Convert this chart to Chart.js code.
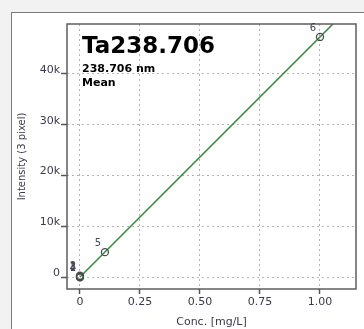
<!DOCTYPE html>
<html>
<head>
<meta charset="utf-8">
<script src="https://cdn.jsdelivr.net/npm/chart.js@4/dist/chart.umd.min.js"></script>
<style>
  html, body { margin: 0; padding: 0; background: #f2f2f2; width: 364px; height: 329px; overflow: hidden; }
  #frame { position: absolute; left: 11px; top: 12px; width: 420px; height: 400px; border: 1.5px solid #7a7a7a; background: #ffffff; }
  #c { position: absolute; left: 0; top: 0; }
</style>
</head>
<body>
<div id="frame"></div>
<canvas id="c" width="364" height="329"></canvas>
<script>
// ---- data ----
const titleText = "Ta238.706";
const subTitle1 = "238.706 nm";
const subTitle2 = "Mean";
const xAxisTitle = "Conc. [mg/L]";
const yAxisTitle = "Intensity (3 pixel)";

const pointLabels = ["1", "2", "3", "4", "5", "6"];
const concValues = [0, 0, 0, 0, 0.104, 1.0];
const intensityValues = [0, 250, 120, -80, 4900, 47300];

const fitX = [0, 1.2];
const fitY = [0, 56760];

const xTickValues = [0, 0.25, 0.5, 0.75, 1.0];
const xTickLabels = ["0", "0.25", "0.50", "0.75", "1.00"];
const yTickValues = [0, 10000, 20000, 30000, 40000];
const yTickLabels = ["0", "10k", "20k", "30k", "40k"];

const FONT = "'DejaVu Sans', sans-serif";

const overlayPlugin = {
  id: 'overlay',
  afterDatasetsDraw(chart) {
    const ctx = chart.ctx;
    const a = chart.chartArea;
    ctx.save();
    // plot border
    ctx.strokeStyle = '#5e5e5e';
    ctx.lineWidth = 1.5;
    ctx.strokeRect(a.left, a.top, a.right - a.left, a.bottom - a.top);
    // point labels
    const meta = chart.getDatasetMeta(1);
    ctx.fillStyle = '#454555';
    ctx.font = "10px " + FONT;
    ctx.textAlign = 'center';
    ctx.textBaseline = 'middle';
    meta.data.forEach((el, i) => {
      ctx.fillText(pointLabels[i], el.x - 7, el.y - 9);
    });
    // title text
    ctx.fillStyle = '#000000';
    ctx.textAlign = 'left';
    ctx.textBaseline = 'alphabetic';
    ctx.font = "bold 23px " + FONT;
    ctx.fillText(titleText, a.left + 15, a.top + 29);
    ctx.font = "bold 11px " + FONT;
    ctx.fillText(subTitle1, a.left + 15, a.top + 48);
    ctx.fillText(subTitle2, a.left + 15, a.top + 62);
    ctx.restore();
  }
};

const gridOpts = (len) => ({
  color: '#b4b4b4',
  lineWidth: 1,
  drawTicks: true,
  tickLength: len,
  tickColor: '#555555',
  tickBorderDash: [],
  tickWidth: 1.5
});

new Chart(document.getElementById('c'), {
  type: 'scatter',
  data: {
    datasets: [
      {
        type: 'line',
        data: fitX.map((x, i) => ({ x: x, y: fitY[i] })),
        borderColor: '#2a9030',
        borderWidth: 1.5,
        pointRadius: 0,
        fill: false,
        order: 2
      },
      {
        data: concValues.map((x, i) => ({ x: x, y: intensityValues[i] })),
        pointStyle: 'circle',
        pointRadius: 3.5,
        pointBorderColor: '#4a4a4a',
        pointBackgroundColor: 'rgba(0,0,0,0)',
        pointBorderWidth: 1.3,
        showLine: false,
        order: 1
      }
    ]
  },
  options: {
    responsive: false,
    animation: false,
    devicePixelRatio: 1,
    layout: { padding: { top: 24, right: 8, left: 0, bottom: 0 } },
    plugins: { legend: { display: false }, tooltip: { enabled: false } },
    scales: {
      x: {
        type: 'linear',
        min: -0.054,
        max: 1.15,
        afterBuildTicks: s => { s.ticks = xTickValues.map(v => ({ value: v })); },
        afterFit: s => { s.height = 40; },
        border: { display: false, dash: [2, 3] },
        grid: gridOpts(5),
        ticks: {
          padding: 2,
          color: '#3a3a4a',
          font: { family: FONT, size: 11 },
          maxRotation: 0,
          callback: (v) => { const i = xTickValues.indexOf(v); return i >= 0 ? xTickLabels[i] : ''; }
        },
        title: {
          display: true,
          text: xAxisTitle,
          color: '#3a3a4a',
          font: { family: FONT, size: 11 },
          padding: { top: 0, bottom: 0 }
        }
      },
      y: {
        type: 'linear',
        min: -2360,
        max: 49850,
        afterBuildTicks: s => { s.ticks = yTickValues.map(v => ({ value: v })); },
        afterFit: s => { s.width = 67; },
        border: { display: false, dash: [2, 3] },
        grid: gridOpts(6),
        ticks: {
          padding: 1,
          labelOffset: -4,
          color: '#3a3a4a',
          font: { family: FONT, size: 11 },
          callback: (v) => { const i = yTickValues.indexOf(v); return i >= 0 ? yTickLabels[i] : ''; }
        },
        title: {
          display: true,
          text: yAxisTitle,
          color: '#3a3a4a',
          font: { family: FONT, size: 10 },
          padding: { top: 16, bottom: 0 }
        }
      }
    }
  },
  plugins: [overlayPlugin]
});
</script>
</body>
</html>
